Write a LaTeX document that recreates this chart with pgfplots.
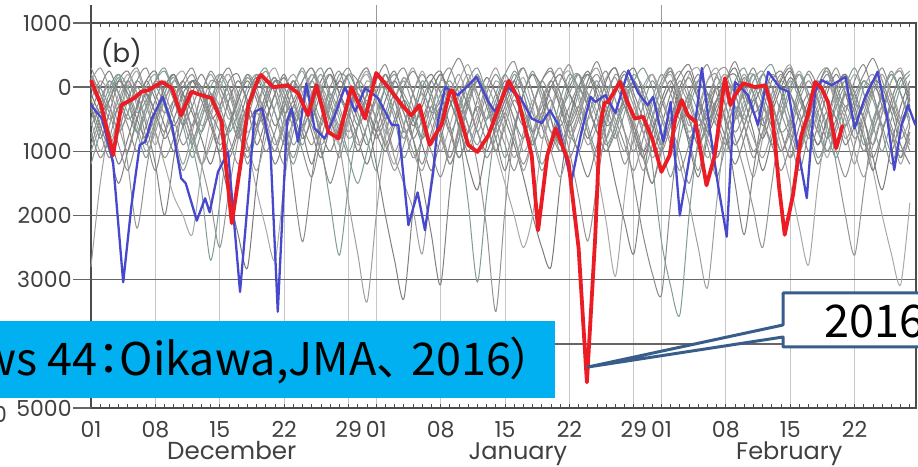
\documentclass[border=0pt]{standalone}
\usepackage{fontspec}
\setmainfont{Poppins}
\newfontfamily\cjk[RawFeature=+palt]{Noto Sans CJK JP}
\usepackage{pgfplots}
\pgfplotsset{compat=1.18}
\usepackage{pgfplotstable}
\definecolor{banner}{RGB}{0,176,240}
\definecolor{callout}{RGB}{56,93,138}
\definecolor{redline}{RGB}{235,28,36}
\definecolor{blueline}{RGB}{72,72,205}
\definecolor{tealgray}{RGB}{130,155,150}

% gray members (daily values, Dec 1 = day 0)
\pgfplotstableread[row sep=\\]{
-2800\\-1500\\-600\\-200\\100\\-300\\-900\\-500\\-100\\200\\
-200\\-700\\-1200\\-800\\-300\\0\\-400\\-1000\\-600\\-100\\
150\\-200\\-500\\-900\\-400\\0\\200\\-300\\-700\\-300\\
100\\-100\\-600\\-1100\\-1500\\-1900\\-2600\\-1400\\-500\\-100\\
200\\-200\\-700\\-300\\100\\-100\\-500\\-1000\\-700\\-200\\
100\\300\\-100\\-500\\-900\\-600\\-100\\150\\-300\\-800\\
-1300\\-900\\-300\\50\\250\\-100\\-600\\-400\\0\\200\\
-300\\-900\\-1400\\-800\\-200\\100\\-100\\-500\\-300\\150\\
300\\-100\\-700\\-1200\\-600\\-100\\200\\-200\\-800\\-500\\
}\gA
\pgfplotstableread[row sep=\\]{
-300\\-800\\-400\\100\\250\\-100\\-600\\-1200\\-2000\\-1100\\
-300\\100\\-100\\-500\\-300\\100\\200\\-300\\-900\\-500\\
-100\\200\\-200\\-700\\-1200\\-600\\-200\\100\\-100\\-500\\
-900\\-500\\0\\250\\-200\\-800\\-1500\\-2300\\-3080\\-1600\\
-600\\-100\\200\\-200\\-600\\-300\\100\\300\\-100\\-600\\
-1000\\-500\\0\\200\\-200\\-700\\-400\\0\\250\\-100\\
-500\\-1000\\-600\\-100\\200\\350\\-100\\-600\\-1100\\-700\\
-200\\150\\-100\\-600\\-300\\100\\300\\-100\\-700\\-1200\\
-800\\-200\\100\\-200\\-500\\-900\\-400\\100\\250\\-200\\
}\gB
\pgfplotstableread[row sep=\\]{
-800\\-400\\0\\200\\-200\\-700\\-1100\\-600\\-100\\150\\
-300\\-900\\-1600\\-2700\\-1800\\-700\\-200\\150\\-100\\-600\\
-1000\\-500\\0\\300\\-100\\-500\\-200\\200\\100\\-400\\
-800\\-1300\\-700\\-200\\150\\-100\\-500\\-900\\-500\\0\\
-700\\-1800\\-3040\\-1700\\-600\\-100\\250\\0\\-400\\-800\\
-400\\100\\350\\-100\\-600\\-1000\\-500\\-100\\200\\-200\\
-600\\-300\\100\\300\\-200\\-800\\-1300\\-700\\-200\\100\\
-100\\-500\\-200\\200\\350\\-100\\-700\\-1000\\-500\\0\\
250\\-200\\-600\\-300\\100\\-100\\-700\\-1200\\-700\\-100\\
}\gC
\pgfplotstableread[row sep=\\]{
0\\-300\\-900\\-500\\100\\300\\-100\\-500\\-200\\100\\
-100\\-700\\-1200\\-1800\\-2500\\-1600\\-800\\-300\\200\\0\\
-400\\-900\\-500\\-100\\200\\-100\\-600\\-1100\\-500\\100\\
300\\-100\\-500\\-200\\100\\-300\\-800\\-400\\100\\300\\
-100\\-600\\-1200\\-2200\\-3500\\-1900\\-700\\-100\\200\\-200\\
-700\\-400\\100\\200\\-300\\-600\\-200\\200\\0\\-500\\
-1000\\-1500\\-900\\-300\\100\\-200\\-600\\-300\\200\\300\\
-100\\-600\\-1100\\-700\\-100\\200\\-100\\-400\\-800\\-400\\
0\\300\\-100\\-600\\-1000\\-600\\-100\\250\\-100\\-600\\
}\gD
\pgfplotstableread[row sep=\\]{
100\\-200\\-700\\-1200\\-800\\-300\\100\\250\\-200\\-600\\
-300\\100\\0\\-500\\-1100\\-1700\\-2300\\-2820\\-1500\\-600\\
-100\\150\\-200\\-600\\-300\\100\\300\\-100\\-500\\-1000\\
-600\\-100\\200\\-200\\-700\\-500\\0\\200\\-100\\-600\\
-1100\\-700\\-200\\150\\-100\\-500\\-900\\-1400\\-2000\\-2500\\
-2800\\-1500\\-500\\0\\250\\-100\\-600\\-400\\100\\300\\
-100\\-500\\-900\\-500\\0\\250\\-200\\-700\\-400\\100\\
200\\-200\\-700\\-1300\\-800\\-200\\150\\-100\\-500\\-900\\
-500\\0\\200\\-100\\-500\\-1100\\-1600\\-900\\-300\\100\\
}\gE
\pgfplotstableread[row sep=\\]{
-500\\-1000\\-600\\-100\\200\\-100\\-500\\-900\\-400\\100\\
250\\-100\\-600\\-400\\0\\200\\-300\\-900\\-1600\\-2200\\
-2700\\-1500\\-500\\100\\300\\0\\-400\\-800\\-500\\0\\
200\\-200\\-800\\-1200\\-600\\-100\\250\\-100\\-500\\-300\\
100\\350\\-100\\-600\\-1000\\-500\\-100\\150\\-300\\-800\\
-400\\100\\250\\-200\\-700\\-1300\\-2100\\-2950\\-1700\\-600\\
-100\\200\\-100\\-500\\-200\\200\\300\\-100\\-600\\-1000\\
-500\\100\\200\\-200\\-700\\-400\\0\\250\\-100\\-600\\
-1100\\-600\\-100\\200\\-100\\-600\\-300\\100\\300\\-100\\
}\gF
\pgfplotstableread[row sep=\\]{
200\\-100\\-500\\-300\\100\\-200\\-800\\-1300\\-700\\-200\\
100\\-300\\-700\\-300\\200\\0\\-500\\-1000\\-600\\-100\\
150\\-400\\-1500\\-2410\\-1400\\-500\\0\\250\\-200\\-600\\
-300\\100\\350\\-100\\-400\\-800\\-500\\-100\\200\\-200\\
-600\\-1000\\-600\\-100\\200\\-100\\-500\\-800\\-300\\100\\
300\\-100\\-500\\-1000\\-500\\0\\250\\-200\\-700\\-1500\\
-2300\\-2900\\-3240\\-1800\\-600\\-100\\200\\-100\\-500\\-900\\
-500\\0\\300\\-100\\-500\\-1000\\-600\\-100\\250\\0\\
-400\\-900\\-400\\100\\350\\-100\\-600\\-1000\\-500\\0\\
}\gG
\pgfplotstableread[row sep=\\]{
-1200\\-700\\-200\\150\\-200\\-700\\-400\\100\\300\\-100\\
-600\\-1100\\-700\\-200\\100\\-300\\-800\\-400\\100\\300\\
-100\\-500\\-900\\-600\\-200\\-900\\-1800\\-2620\\-1500\\-600\\
-100\\200\\-100\\-500\\-1100\\-700\\-200\\100\\-300\\-700\\
-400\\100\\300\\-100\\-600\\-1100\\-600\\-100\\250\\-100\\
-500\\-1000\\-600\\-100\\200\\0\\-400\\-800\\-400\\100\\
-300\\-1200\\-2400\\-3100\\-3550\\-2000\\-800\\-200\\150\\-100\\
-500\\-300\\100\\250\\-200\\-700\\-500\\0\\200\\-200\\
-700\\-1100\\-600\\-200\\100\\-200\\-600\\-300\\100\\250\\
}\gH
\pgfplotstableread[row sep=\\]{
-200\\100\\-100\\-600\\-1000\\-500\\0\\200\\-200\\-700\\
-1200\\-700\\-100\\200\\-100\\-500\\-200\\200\\0\\-500\\
-900\\-500\\0\\250\\-200\\-600\\-300\\-900\\-1800\\-2600\\
-3350\\-2000\\-800\\-200\\150\\-100\\-500\\-300\\100\\0\\
-500\\-900\\-500\\0\\300\\-100\\-700\\-1300\\-800\\-200\\
100\\-200\\-700\\-400\\100\\300\\-100\\-600\\-1000\\-500\\
0\\200\\-200\\-600\\-1200\\-1800\\-2500\\-3130\\-1800\\-600\\
-100\\200\\-100\\-500\\-200\\150\\350\\-100\\-600\\-300\\
100\\-300\\-800\\-500\\0\\200\\-200\\-700\\-1200\\-700\\
}\gI
\pgfplotstableread[row sep=\\]{
-400\\0\\250\\-100\\-500\\-300\\100\\-200\\-600\\-1000\\
-600\\-100\\200\\-100\\-500\\-1000\\-600\\-100\\150\\-200\\
-600\\-300\\100\\-200\\-700\\-1100\\-600\\-100\\200\\-100\\
-500\\-1200\\-2000\\-2700\\-3300\\-1900\\-700\\-100\\200\\-100\\
-400\\-200\\100\\-300\\-800\\-1300\\-700\\-100\\200\\0\\
-500\\-900\\-500\\0\\200\\-200\\-800\\-1500\\-2100\\-2600\\
-1500\\-500\\0\\250\\-100\\-500\\-900\\-500\\0\\-600\\
-1500\\-2300\\-1300\\-400\\100\\250\\-100\\-500\\-1000\\-600\\
-100\\200\\-100\\-500\\-300\\100\\0\\-400\\-900\\-1200\\
}\gJ
\pgfplotstableread[row sep=\\]{
-600\\-300\\100\\-300\\-1200\\-2200\\-1300\\-500\\0\\200\\
-200\\-600\\-300\\100\\0\\-400\\-800\\-500\\0\\250\\
-100\\-700\\-1100\\-600\\-100\\200\\-200\\-600\\-300\\100\\
300\\-100\\-500\\-1000\\-600\\-100\\200\\-100\\-600\\-1100\\
-600\\-100\\200\\-200\\-700\\-400\\0\\300\\-100\\-500\\
-900\\-500\\-1000\\-1700\\-2400\\-1500\\-600\\-100\\200\\-200\\
-700\\-500\\0\\300\\-100\\-600\\-300\\100\\200\\-300\\
-800\\-1300\\-1900\\-2500\\-1500\\-500\\0\\200\\-200\\-700\\
-400\\-1200\\-2000\\-2620\\-1600\\-600\\-100\\200\\-100\\-500\\
}\gK
\pgfplotstableread[row sep=\\]{
150\\-300\\-800\\-500\\0\\250\\-200\\-700\\-1200\\-1700\\
-2000\\-2300\\-1300\\-500\\0\\200\\-200\\-700\\-400\\100\\
300\\-100\\-500\\-200\\200\\0\\-500\\-900\\-500\\0\\
250\\-200\\-700\\-500\\0\\300\\-100\\-600\\-1000\\-600\\
-100\\200\\-200\\-600\\-1000\\-1500\\-2000\\-2500\\-2000\\-900\\
-300\\100\\350\\-100\\-500\\-200\\150\\300\\-100\\-600\\
-1000\\-500\\0\\200\\-200\\-700\\-400\\100\\300\\-100\\
-500\\-200\\200\\0\\-400\\-900\\-1500\\-2200\\-2770\\-1500\\
-600\\-100\\200\\-200\\-700\\-1300\\-2000\\-2600\\-3080\\-1800\\
}\gL
\pgfplotstableread[row sep=\\]{
-100\\-400\\-200\\100\\-100\\-500\\-800\\-400\\0\\200\\
-100\\-400\\-800\\-1200\\-700\\-200\\100\\-200\\-600\\-300\\
100\\0\\-400\\-800\\-500\\-100\\200\\-100\\-400\\-800\\
-1200\\-700\\-200\\100\\-200\\-600\\-300\\100\\250\\-200\\
-600\\-1200\\-1600\\-900\\-300\\100\\-100\\-500\\-900\\-500\\
0\\200\\-100\\-400\\-800\\-400\\100\\300\\-200\\-700\\
-1100\\-700\\-200\\100\\-300\\-900\\-1400\\-800\\-200\\100\\
300\\-100\\-400\\-800\\-400\\0\\250\\-100\\-500\\-900\\
-500\\0\\200\\-300\\-800\\-1300\\-700\\-200\\150\\-300\\
}\gM
\pgfplotstableread[row sep=\\]{
-900\\-500\\-100\\200\\0\\-400\\-200\\100\\250\\-100\\
-500\\-900\\-500\\0\\200\\-100\\-600\\-1200\\-700\\-200\\
100\\-200\\-600\\-300\\100\\300\\-100\\-500\\-1000\\-600\\
-100\\200\\0\\-400\\-800\\-400\\100\\-200\\-700\\-1200\\
-800\\-200\\150\\-100\\-500\\-200\\200\\-100\\-700\\-1200\\
-800\\-200\\200\\0\\-300\\-700\\-1000\\-600\\-100\\200\\
0\\-400\\-900\\-1400\\-800\\-200\\100\\-200\\-600\\-300\\
100\\300\\-100\\-500\\-900\\-500\\-100\\200\\-100\\-500\\
-1000\\-600\\0\\300\\-100\\-600\\-1000\\-500\\0\\200\\
}\gN
\pgfplotstableread[row sep=\\]{
300\\0\\-300\\-700\\-400\\100\\300\\-100\\-400\\-200\\
100\\300\\-100\\-500\\-900\\-600\\-100\\200\\-100\\-400\\
-800\\-1200\\-700\\-200\\100\\-200\\-500\\-200\\200\\100\\
-300\\-700\\-400\\100\\300\\-100\\-600\\-1000\\-1400\\-900\\
-300\\100\\-100\\-500\\-200\\200\\400\\-100\\-500\\-300\\
100\\-300\\-800\\-500\\0\\200\\-100\\-500\\-900\\-1300\\
-800\\-200\\200\\-100\\-500\\-300\\100\\350\\-100\\-500\\
-900\\-600\\-100\\200\\0\\-400\\-800\\-1300\\-700\\-100\\
200\\-100\\-400\\-800\\-500\\0\\300\\-100\\-500\\-200\\
}\gO
\pgfplotstableread[row sep=\\]{
-300\\-700\\-1100\\-700\\-200\\100\\-100\\-400\\-700\\-300\\
0\\200\\-100\\-300\\100\\300\\-100\\-500\\-300\\100\\
0\\-400\\-200\\100\\300\\-100\\-500\\-800\\-400\\100\\
-100\\-500\\-900\\-500\\0\\250\\0\\-400\\-200\\200\\
450\\100\\-400\\-800\\-400\\0\\-300\\-600\\-300\\100\\
250\\-100\\-600\\-300\\100\\400\\0\\-400\\-200\\100\\
-200\\-600\\-1000\\-600\\-100\\150\\-200\\-500\\-300\\100\\
400\\0\\-400\\-200\\200\\0\\-500\\-900\\-500\\0\\
300\\0\\-300\\-100\\200\\450\\100\\-300\\-600\\-300\\
}\gP
\pgfplotstableread[row sep=\\]{
200\\-100\\-400\\-900\\-1300\\-800\\-300\\100\\-100\\-500\\
-900\\-600\\-100\\250\\0\\-300\\-700\\-1100\\-700\\-200\\
100\\-100\\-500\\-1000\\-1400\\-800\\-300\\100\\300\\-100\\
-400\\-200\\200\\-100\\-600\\-1100\\-800\\-300\\-700\\-1200\\
-800\\-300\\100\\-200\\-500\\-900\\-1300\\-800\\-300\\100\\
-200\\-600\\-1100\\-700\\-200\\100\\-300\\-700\\-1200\\-800\\
-300\\100\\-200\\-600\\-1000\\-1500\\-900\\-300\\0\\-300\\
-700\\-400\\0\\-300\\-600\\-1000\\-700\\-200\\100\\-200\\
-600\\-1000\\-1400\\-900\\-400\\0\\-200\\-600\\-1000\\-700\\
}\gQ
\pgfplotstableread[row sep=\\]{
-500\\-200\\100\\-100\\-400\\-700\\-300\\0\\-300\\-800\\
-1300\\-900\\-400\\-100\\-300\\-700\\-400\\0\\200\\-100\\
-400\\-800\\-1200\\-700\\-300\\0\\-300\\-700\\-1100\\-1500\\
-1000\\-400\\0\\200\\-100\\-400\\-800\\-500\\-100\\100\\
-200\\-600\\-900\\-500\\-100\\200\\-100\\-400\\-800\\-1300\\
-900\\-400\\-100\\200\\-100\\-500\\-900\\-600\\-200\\100\\
300\\0\\-400\\-800\\-500\\-100\\-400\\-900\\-1400\\-900\\
-400\\-100\\200\\-200\\-600\\-300\\100\\-200\\-600\\-1100\\
-800\\-300\\0\\-400\\-900\\-500\\-100\\200\\-100\\-500\\
}\gR
\pgfplotstableread[row sep=\\]{
-200\\-600\\-1000\\-1500\\-1000\\-500\\-100\\-400\\-800\\-500\\
-100\\100\\-200\\-600\\-1000\\-600\\-200\\100\\-200\\-700\\
-1200\\-800\\-300\\0\\-300\\-700\\-1000\\-600\\-200\\0\\
-300\\-700\\-1000\\-600\\-200\\-500\\-900\\-1300\\-800\\-300\\
0\\-300\\-700\\-1000\\-600\\-200\\100\\-300\\-700\\-400\\
0\\-300\\-700\\-1000\\-1400\\-900\\-400\\0\\-300\\-600\\
-1000\\-700\\-300\\0\\-400\\-800\\-500\\-100\\-400\\-800\\
-1200\\-800\\-300\\0\\-300\\-700\\-1100\\-600\\-200\\100\\
-200\\-500\\-900\\-600\\-200\\100\\-300\\-700\\-1100\\-600\\
}\gS
\pgfplotstableread[row sep=\\]{
100\\300\\0\\-400\\-200\\-600\\-1000\\-700\\-200\\0\\
-400\\-800\\-1200\\-900\\-400\\-100\\-500\\-900\\-1300\\-800\\
-300\\0\\200\\-100\\-500\\-900\\-600\\-200\\-500\\-900\\
-600\\-200\\100\\-200\\-600\\-1000\\-1300\\-800\\-300\\0\\
-300\\-700\\-400\\0\\-300\\-700\\-1100\\-700\\-200\\-500\\
-1000\\-1400\\-900\\-400\\-100\\-400\\-800\\-400\\0\\-300\\
-700\\-1100\\-800\\-300\\0\\-300\\-700\\-1100\\-800\\-300\\
0\\-400\\-800\\-1100\\-700\\-300\\-600\\-1000\\-600\\-200\\
100\\-200\\-500\\-1000\\-1400\\-900\\-400\\-100\\-500\\-900\\
}\gT
\pgfplotstableread[row sep=\\]{
-700\\-1100\\-800\\-300\\-600\\-1000\\-600\\-200\\100\\-200\\
-600\\-300\\0\\-400\\-700\\-1100\\-700\\-300\\-600\\-1000\\
-700\\-200\\100\\-300\\-600\\-1000\\-1500\\-1000\\-400\\-100\\
-400\\-800\\-500\\-100\\-400\\-800\\-1200\\-700\\-300\\-700\\
-1100\\-700\\-300\\-600\\-1000\\-600\\-200\\-500\\-900\\-500\\
-200\\-600\\-300\\0\\-300\\-700\\-1000\\-700\\-300\\-700\\
-1100\\-1500\\-1000\\-500\\-200\\-500\\-900\\-600\\-200\\-500\\
-900\\-600\\-200\\-500\\-900\\-1300\\-900\\-400\\-100\\-400\\
-800\\-500\\-100\\-400\\-800\\-1100\\-700\\-300\\-600\\-1000\\
}\gU
\pgfplotstableread[row sep=\\]{
-1000\\-600\\-300\\-700\\-400\\0\\-300\\-700\\-1100\\-800\\
-400\\-800\\-500\\-100\\-400\\-800\\-1200\\-800\\-400\\-700\\
-1000\\-600\\-300\\-600\\-900\\-500\\-100\\-400\\-800\\-600\\
-200\\-500\\-900\\-1300\\-900\\-400\\-100\\-400\\-800\\-1100\\
-700\\-300\\-700\\-1100\\-800\\-400\\-800\\-1200\\-800\\-400\\
-700\\-1000\\-600\\-300\\-700\\-1100\\-800\\-400\\-700\\-1000\\
-600\\-200\\-500\\-900\\-1300\\-900\\-500\\-800\\-1100\\-700\\
-300\\-600\\-1000\\-700\\-300\\-700\\-1100\\-800\\-400\\-700\\
-1000\\-700\\-300\\-600\\-1000\\-700\\-300\\-700\\-1100\\-800\\
}\gV

\begin{document}
\begin{tikzpicture}[x=1pt,y=1pt]
\begin{axis}[
  at={(45.5pt,29.5pt)}, anchor=south west,
  scale only axis, width=412.5pt, height=192.5pt,
  xmin=0, xmax=89.67, ymin=-5000, ymax=1000,
  xtick={0,7,14,21,28,31,38,45,52,59,62,69,76,83},
  xticklabels={01,08,15,22,29,01,08,15,22,29,01,08,15,22},
  minor xtick={0,1,...,89},
  ytick={-5000,-4000,-3000,-2000,-1000,0,1000},
  yticklabels={5000,,3000,2000,1000,0,1000},
  tick align=inside,
  major tick length=0pt, minor tick length=1.8pt,
  xmajorgrids, ymajorgrids,
  x grid style={black!22, line width=0.5pt},
  y grid style={black!60, line width=0.7pt},
  axis line style={black!70, line width=0.8pt},
  minor tick style={black!70, line width=0.4pt},
  xticklabel style={anchor=base, inner sep=0pt, yshift=-15pt, text=black!75, font=\fontsize{11}{13}\selectfont},
  yticklabel style={anchor=east, inner sep=0pt, xshift=-9.5pt, text=black!75, font=\fontsize{11}{13}\selectfont},
  clip=false,
  scaled y ticks=false,
  every axis plot/.append style={line join=round},
  gm/.style={line width=0.5pt, smooth, tension=0.45},
]
\addplot[black!38, gm] table[x expr=\coordindex, y index=0] {\gA};
\addplot[black!50, gm] table[x expr=\coordindex, y index=0] {\gB};
\addplot[tealgray, gm] table[x expr=\coordindex, y index=0] {\gC};
\addplot[black!42, gm] table[x expr=\coordindex, y index=0] {\gD};
\addplot[black!52, gm] table[x expr=\coordindex, y index=0] {\gE};
\addplot[black!34, gm] table[x expr=\coordindex, y index=0] {\gF};
\addplot[black!46, gm] table[x expr=\coordindex, y index=0] {\gG};
\addplot[tealgray, gm] table[x expr=\coordindex, y index=0] {\gH};
\addplot[black!38, gm] table[x expr=\coordindex, y index=0] {\gI};
\addplot[black!50, gm] table[x expr=\coordindex, y index=0] {\gJ};
\addplot[black!42, gm] table[x expr=\coordindex, y index=0] {\gK};
\addplot[black!34, gm] table[x expr=\coordindex, y index=0] {\gL};
\addplot[black!52, gm] table[x expr=\coordindex, y index=0] {\gM};
\addplot[tealgray, gm] table[x expr=\coordindex, y index=0] {\gN};
\addplot[black!44, gm] table[x expr=\coordindex, y index=0] {\gO};
\addplot[black!46, gm] table[x expr=\coordindex, y index=0] {\gP};
\addplot[black!44, gm] table[x expr=\coordindex, y index=0] {\gQ};
\addplot[tealgray, gm] table[x expr=\coordindex, y index=0] {\gR};
\addplot[black!50, gm] table[x expr=\coordindex, y index=0] {\gS};
\addplot[black!38, gm] table[x expr=\coordindex, y index=0] {\gT};
\addplot[black!46, gm] table[x expr=\coordindex, y index=0] {\gU};
\addplot[black!42, gm] table[x expr=\coordindex, y index=0] {\gV};
% blue year
\addplot[blueline, line width=1.15pt] coordinates {
(0,-280) (1.2,-490) (2.4,-1170) (3.5,-3040) (4.4,-1840) (5.3,-900) (5.9,-850) (6.6,-490) (7.8,-150) (8.8,-590)
(9.8,-1420) (10.3,-1500) (11.5,-2080) (12.4,-1730) (12.9,-1950) (13.8,-1320) (14.9,-1010) (16.2,-3190) (17.1,-1680) (17.8,-380)
(18.6,-330) (19.5,-950) (20.3,-3500) (21.3,-540) (21.8,-330) (22.5,-850) (23.4,60) (24.3,-640) (25.4,-800) (26.5,-440)
(27.6,0) (28.7,-380) (29.8,-15) (31.2,-170) (32.7,-590) (33.4,-590) (34.5,-2150) (35.5,-1640) (36.3,-2230) (37.2,-1320)
(37.7,-540) (38.5,0) (39.9,-125) (41,30) (41.9,160) (43.2,-230) (43.9,-380) (45.3,0) (46.7,-170) (47.9,-490)
(49,-560) (49.9,-360) (50.8,-590) (52.2,-1480) (53.3,-700) (54.3,-150) (54.8,-230) (55.9,-125) (57,-400) (58.4,260)
(59.5,-95) (60.5,-280) (61.1,-150) (62.2,-850) (63,-230) (64,-2000) (64.9,-1220) (65.7,-540) (66.4,300) (67.3,-700)
(68.2,-1570) (69.1,-2330) (70,80) (70.7,-15) (71.4,-125) (72.5,-590) (73.6,240) (74.9,-15) (75.8,-70) (76.7,-850)
(77.8,-1730) (78.7,-70) (79.4,110) (80.5,30) (82,160) (83,-640) (84.1,-170) (85.5,240) (86.5,-440) (87.3,-1290)
(88.1,-590) (88.8,-280) (89.6,-590)
};
% 2016
\addplot[redline, line width=1.9pt] coordinates {
(0,110) (1.1,-280) (2.4,-1060) (3.3,-280) (4.7,-170) (5.5,-70) (6.2,-50) (7.7,80) (8.8,-15) (9.8,-440)
(10.9,-70) (12,-125) (13.1,-170) (14.2,-540) (15.3,-2120) (16.4,-1060) (17.1,-280) (18.2,140) (18.5,190) (19.8,0)
(21.4,30) (22.5,-95) (23.6,-440) (24.5,30) (25.8,-700) (26.9,-800) (28.3,0) (29.8,-490) (31,220) (32.3,0)
(33.8,-280) (34.8,-440) (35.7,-280) (36.8,-900) (37.6,-700) (38.1,-590) (39,-70) (39.3,-50) (41,-900) (42,-1010)
(43.2,-750) (45.4,100) (46.4,-170) (47.9,-1060) (48.6,-2230) (49.6,-1060) (50.5,-640) (51.9,-1170) (53,-2510) (53.9,-4600)
(54.8,-2350) (55.3,-640) (55.8,-250) (56.2,-230) (57.5,80) (58.3,-230) (59.1,-490) (60,-460) (61,-800) (62,-1320)
(62.9,-1060) (63.5,-490) (64.2,-200) (64.9,-440) (65.7,-540) (66.9,-1530) (67.8,-1060) (68.9,140) (69.5,-280) (70,-125)
(70.9,60) (72.2,0) (73.3,30) (73.9,-280) (74.3,-800) (74.8,-1570) (75.4,-2300) (76.3,-1680) (77.2,-750) (77.9,-440)
(78.7,80) (79.4,-15) (80.1,-230) (81,-950) (81.7,-590)
};
% decorations: tick extensions
\draw[black!60, line width=0.7pt] (axis cs:0,1000) -- ++(-9pt,0pt);
\draw[black!60, line width=0.7pt] (axis cs:0,0) -- ++(-9pt,0pt);
\draw[black!60, line width=0.7pt] (axis cs:0,-1000) -- ++(-9pt,0pt);
\draw[black!60, line width=0.7pt] (axis cs:0,-2000) -- ++(-9pt,0pt);
\draw[black!60, line width=0.7pt] (axis cs:0,-3000) -- ++(-9pt,0pt);
\draw[black!60, line width=0.7pt] (axis cs:0,-5000) -- ++(-9pt,0pt);
\draw[black!70, line width=0.8pt] (axis cs:0,1000) -- ++(0pt,9pt);
\draw[black!40, line width=0.6pt] (axis cs:31,1000) -- ++(0pt,9pt);
\draw[black!40, line width=0.6pt] (axis cs:62,1000) -- ++(0pt,9pt);
\node[text=black!80, font=\fontsize{13}{15}\selectfont] at (axis cs:3.3,530) {(b)};
\node[anchor=base, text=black!75, font=\fontsize{12.3}{14}\selectfont] at (axis cs:15.3,-5000) [yshift=-25.5pt] {December};
\node[anchor=base, text=black!75, font=\fontsize{12}{14}\selectfont] at (axis cs:46.4,-5000) [yshift=-25.5pt] {January};
\node[anchor=base, text=black!75, font=\fontsize{12}{14}\selectfont] at (axis cs:75.9,-5000) [yshift=-25.5pt] {February};
\end{axis}
\node[text=black!75, font=\fontsize{11}{13}\selectfont] at (0,26.5) {0};
% banner
\fill[banner] (-2,34.5) rectangle (277.5,73);
\node[anchor=base east, inner sep=0pt, font=\cjk\fontsize{22.5}{26}\selectfont] at (267,45.5) {ws 44：Oikawa,JMA、\hspace{6pt}2016）};
% callout
\draw[callout, line width=1.5pt, fill=white, line join=round] (391.5,87) -- (470,87) -- (470,60) -- (391.5,60) -- (391.5,65) -- (294,50) -- (391.5,71) -- cycle;
\node[anchor=base west, inner sep=0pt, font=\cjk\fontsize{22.5}{26}\selectfont] at (412,64.5) {2016};
\pgfresetboundingbox
\path[use as bounding box] (0,0) rectangle (459,233.5);
\end{tikzpicture}
\end{document}
